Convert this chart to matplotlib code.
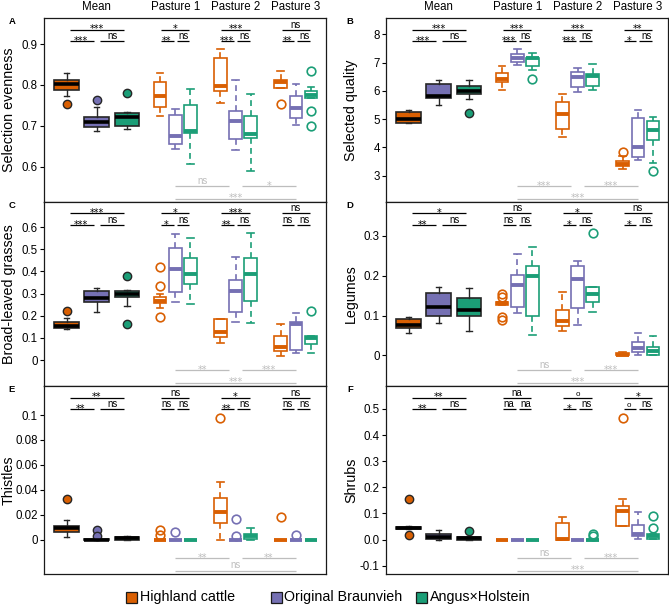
import matplotlib
matplotlib.use("Agg")
import matplotlib.pyplot as plt
from matplotlib.patches import Rectangle
import matplotlib.transforms as mtransforms

plt.rcParams['font.family'] = ['Liberation Sans', 'DejaVu Sans']

# ---------------- data ----------------
breeds = ['Highland cattle', 'Original Braunvieh', 'Angus×Holstein']
groups = ['Mean', 'Pasture 1', 'Pasture 2', 'Pasture 3']
colors = ['#D95F02', '#7570B3', '#1B9E77']

# order in every list: Mean(HC, OB, AH), Pasture1(HC, OB, AH), Pasture2(...), Pasture3(...)
A_med = [0.803, 0.710, 0.721, 0.773, 0.675, 0.688, 0.798, 0.712, 0.680, 0.808, 0.743, 0.776]
A_q1  = [0.788, 0.698, 0.700, 0.746, 0.655, 0.682, 0.786, 0.668, 0.670, 0.792, 0.719, 0.768]
A_q3  = [0.811, 0.721, 0.732, 0.808, 0.727, 0.751, 0.867, 0.737, 0.723, 0.812, 0.772, 0.784]
A_lo  = [0.772, 0.686, 0.692, 0.723, 0.643, 0.606, 0.755, 0.641, 0.590, 0.792, 0.702, 0.768]
A_hi  = [0.829, 0.746, 0.733, 0.830, 0.741, 0.790, 0.889, 0.811, 0.777, 0.833, 0.802, 0.794]
A_out = [[0.753], [0.763], [0.780], [], [], [], [], [], [], [0.754], [], [0.835, 0.735, 0.700]]

B_med = [5.00, 5.83, 6.00, 6.42, 7.15, 7.15, 5.18, 6.48, 6.52, 3.41, 4.00, 4.61]
B_q1  = [4.85, 5.76, 5.88, 6.32, 7.03, 6.89, 4.67, 6.15, 6.18, 3.34, 3.65, 4.26]
B_q3  = [5.26, 6.23, 6.17, 6.62, 7.29, 7.17, 5.62, 6.68, 6.60, 3.52, 5.03, 4.93]
B_lo  = [4.85, 5.50, 5.70, 6.03, 6.91, 6.74, 4.38, 5.95, 6.03, 3.24, 3.55, 3.45]
B_hi  = [5.32, 6.38, 6.38, 6.88, 7.50, 7.33, 5.89, 6.82, 6.97, 3.69, 5.32, 5.09]
B_out = [[], [], [5.23], [], [], [6.42], [], [], [], [3.85], [], [3.18]]

C_med = [0.155, 0.278, 0.296, 0.266, 0.410, 0.388, 0.125, 0.313, 0.388, 0.060, 0.161, 0.098]
C_q1  = [0.143, 0.263, 0.284, 0.256, 0.308, 0.341, 0.105, 0.218, 0.266, 0.041, 0.045, 0.072]
C_q3  = [0.170, 0.313, 0.311, 0.286, 0.504, 0.459, 0.185, 0.361, 0.459, 0.110, 0.173, 0.108]
C_lo  = [0.140, 0.218, 0.244, 0.233, 0.263, 0.251, 0.075, 0.170, 0.165, 0.020, 0.030, 0.030]
C_hi  = [0.188, 0.326, 0.316, 0.299, 0.568, 0.552, 0.185, 0.463, 0.571, 0.161, 0.211, 0.108]
C_out = [[0.221], [], [0.380, 0.161], [0.418, 0.335, 0.196], [], [], [], [], [], [], [], [0.221]]

D_med = [0.076, 0.122, 0.114, 0.131, 0.177, 0.200, 0.086, 0.192, 0.153, 0.002, 0.018, 0.011]
D_q1  = [0.068, 0.100, 0.099, 0.126, 0.122, 0.099, 0.074, 0.118, 0.133, 0.000, 0.008, 0.001]
D_q3  = [0.090, 0.157, 0.143, 0.135, 0.202, 0.224, 0.114, 0.224, 0.172, 0.005, 0.034, 0.022]
D_lo  = [0.057, 0.080, 0.061, 0.126, 0.106, 0.051, 0.061, 0.076, 0.108, 0.000, 0.000, 0.001]
D_hi  = [0.097, 0.172, 0.168, 0.135, 0.254, 0.273, 0.158, 0.237, 0.172, 0.009, 0.057, 0.049]
D_out = [[], [], [], [0.155, 0.147, 0.097, 0.088], [], [], [], [], [0.307], [], [], []]

E_med = [0.0091, 0.0, 0.0010, 0.0, 0.0, 0.0, 0.0220, 0.0, 0.0027, 0.0, 0.0, 0.0]
E_q1  = [0.0064, 0.0, 0.0000, 0.0, 0.0, 0.0, 0.0137, 0.0, 0.0003, 0.0, 0.0, 0.0]
E_q3  = [0.0110, 0.0008, 0.0020, 0.0, 0.0, 0.0, 0.0333, 0.0, 0.0046, 0.0, 0.0, 0.0]
E_lo  = [0.0020, 0.0, 0.0000, 0.0, 0.0, 0.0, 0.0000, 0.0, 0.0000, 0.0, 0.0, 0.0]
E_hi  = [0.0158, 0.0008, 0.0030, 0.0, 0.0, 0.0, 0.0466, 0.0, 0.0091, 0.0, 0.0, 0.0]
E_out = [[0.0327], [0.0075, 0.0030], [], [0.0078, 0.0035], [0.0064], [],
         [0.098], [0.0166, 0.0030], [], [0.018], [0.0035], []]

F_med = [0.044, 0.009, 0.005, 0.0, 0.0, 0.0, 0.003, 0.0, 0.0, 0.111, 0.022, 0.014]
F_q1  = [0.040, 0.002, 0.000, 0.0, 0.0, 0.0, 0.000, 0.0, 0.0, 0.053, 0.015, 0.002]
F_q3  = [0.048, 0.021, 0.009, 0.0, 0.0, 0.0, 0.063, 0.0, 0.0, 0.127, 0.056, 0.021]
F_lo  = [0.040, 0.000, 0.000, 0.0, 0.0, 0.0, 0.000, 0.0, 0.0, 0.053, 0.001, 0.002]
F_hi  = [0.052, 0.035, 0.009, 0.0, 0.0, 0.0, 0.086, 0.0, 0.0, 0.155, 0.104, 0.021]
F_out = [[0.156, 0.017], [], [0.031], [], [], [], [], [], [0.020, 0.012], [0.467], [], [0.091, 0.046]]

# significance labels: per group (Mean, P1, P2, P3): HC vs AH (top), HC vs OB (left), OB vs AH (right)
A_sig_top = ['***', '*', '***', 'ns']
A_sig_left = ['***', '**', '***', '**']
A_sig_right = ['ns', 'ns', 'ns', 'ns']
A_sig_past = ['ns', '*', '***']   # P1 vs P2, P2 vs P3, P1 vs P3

B_sig_top = ['***', '***', '***', '**']
B_sig_left = ['***', '***', '***', '*']
B_sig_right = ['ns', 'ns', 'ns', 'ns']
B_sig_past = ['***', '***', '***']

C_sig_top = ['***', '*', '***', 'ns']
C_sig_left = ['***', '*', '**', 'ns']
C_sig_right = ['ns', 'ns', 'ns', 'ns']
C_sig_past = ['**', '***', '***']

D_sig_top = ['*', 'ns', '*', 'ns']
D_sig_left = ['**', 'ns', '*', '*']
D_sig_right = ['ns', 'ns', 'ns', 'ns']
D_sig_past = ['ns', '***', '***']

E_sig_top = ['**', 'ns', '*', 'ns']
E_sig_left = ['**', 'ns', '**', 'ns']
E_sig_right = ['ns', 'ns', 'ns', 'ns']
E_sig_past = ['**', '**', 'ns']

F_sig_top = ['**', 'na', 'o', '*']
F_sig_left = ['**', 'na', '*', 'o']
F_sig_right = ['ns', 'na', 'ns', 'ns']
F_sig_past = ['ns', '***', '***']

ylabels = ['Selection evenness', 'Selected quality', 'Broad-leaved grasses',
           'Legumes', 'Thistles', 'Shrubs']
letters = ['A', 'B', 'C', 'D', 'E', 'F']
yticks = [[0.6, 0.7, 0.8, 0.9], [3, 4, 5, 6, 7, 8],
          [0, 0.1, 0.2, 0.3, 0.4, 0.5, 0.6], [0, 0.1, 0.2, 0.3],
          [0, 0.02, 0.04, 0.06, 0.08, 0.1], [-0.1, 0.0, 0.1, 0.2, 0.3, 0.4, 0.5]]
yticklabels = [['0.6', '0.7', '0.8', '0.9'], ['3', '4', '5', '6', '7', '8'],
               ['0', '0.1', '0.2', '0.3', '0.4', '0.5', '0.6'], ['0', '0.1', '0.2', '0.3'],
               ['0', '0.02', '0.04', '0.06', '0.08', '0.1'],
               ['-0.1', '0.0', '0.1', '0.2', '0.3', '0.4', '0.5']]

# ---------------- layout ----------------
W, H = 669, 608
fig = plt.figure(figsize=(W / 100, H / 100), dpi=100)

ylims = [(0.513, 0.964), (2.07, 8.58), (-0.117, 0.713), (-0.077, 0.385),
         (-0.0276, 0.1233), (-0.132, 0.588)]
col_x = [44, 386]
row_y = [(18, 202), (202, 386), (386, 574)]
positions = [1, 2, 3, 4.1, 4.6, 5.1, 6.1, 6.6, 7.1, 8.1, 8.6, 9.1]
centers = [2, 4.6, 6.6, 8.6]

panels = [
    (A_med, A_q1, A_q3, A_lo, A_hi, A_out, A_sig_top, A_sig_left, A_sig_right, A_sig_past),
    (B_med, B_q1, B_q3, B_lo, B_hi, B_out, B_sig_top, B_sig_left, B_sig_right, B_sig_past),
    (C_med, C_q1, C_q3, C_lo, C_hi, C_out, C_sig_top, C_sig_left, C_sig_right, C_sig_past),
    (D_med, D_q1, D_q3, D_lo, D_hi, D_out, D_sig_top, D_sig_left, D_sig_right, D_sig_past),
    (E_med, E_q1, E_q3, E_lo, E_hi, E_out, E_sig_top, E_sig_left, E_sig_right, E_sig_past),
    (F_med, F_q1, F_q3, F_lo, F_hi, F_out, F_sig_top, F_sig_left, F_sig_right, F_sig_past),
]

GREY = '#bdbdbd'


def sig(ax, x0, x1, yfrac, label, color, dx=0.0):
    trans = ax.get_xaxis_transform()
    ax.plot([x0, x1], [yfrac, yfrac], transform=trans, color=color, lw=0.9,
            clip_on=False, solid_capstyle='butt')
    xm = (x0 + x1) / 2
    if '*' in label:
        t = mtransforms.offset_copy(trans, fig=fig, x=dx, y=-2.6, units='dots')
        ax.text(xm, yfrac, label, transform=t, ha='center', va='baseline',
                fontsize=7.0, family='DejaVu Sans', color=color)
    elif label == 'o':
        t = mtransforms.offset_copy(trans, fig=fig, x=dx, y=2.0, units='dots')
        ax.text(xm, yfrac, label, transform=t, ha='center', va='baseline',
                fontsize=5.8, color=color)
    else:
        t = mtransforms.offset_copy(trans, fig=fig, x=dx, y=2.0, units='dots')
        ax.text(xm, yfrac, label, transform=t, ha='center', va='baseline',
                fontsize=6.9, color=color)


for k, p in enumerate(panels):
    med, q1, q3, lo, hi, out, stop, sleft, sright, spast = p
    r, c = divmod(k, 2)
    x0 = col_x[c]
    ytop, ybot = row_y[r]
    ax = fig.add_axes([x0 / W, 1 - ybot / H, 282 / W, (ybot - ytop) / H])
    ax.set_xlim(0.25, 9.6)
    ax.set_ylim(*ylims[k])

    for i in range(12):
        st = [dict(med=med[i], q1=q1[i], q3=q3[i], whislo=lo[i], whishi=hi[i], fliers=out[i])]
        col = colors[i % 3]
        if i < 3:
            ax.bxp(st, positions=[positions[i]], widths=0.82, patch_artist=True,
                   manage_ticks=False, capwidths=0.17,
                   boxprops=dict(facecolor=col, edgecolor='#262626', linewidth=1.2),
                   medianprops=dict(color='black', linewidth=2.6, solid_capstyle='butt'),
                   whiskerprops=dict(color='#262626', linewidth=1.0),
                   capprops=dict(color='#262626', linewidth=1.0),
                   flierprops=dict(marker='o', markerfacecolor=col, markeredgecolor='#262626',
                                   markersize=6, markeredgewidth=1.0), zorder=3)
        else:
            ax.bxp(st, positions=[positions[i]], widths=0.42, patch_artist=True,
                   manage_ticks=False, capwidths=0.22,
                   boxprops=dict(facecolor='white', edgecolor=col, linewidth=1.2),
                   medianprops=dict(color=col, linewidth=2.8, solid_capstyle='butt'),
                   whiskerprops=dict(color=col, linewidth=1.2, linestyle=(0, (3.5, 2.5))),
                   capprops=dict(color=col, linewidth=1.2),
                   flierprops=dict(marker='o', markerfacecolor='none', markeredgecolor=col,
                                   markersize=6.2, markeredgewidth=1.2), zorder=3)

    ax.set_xticks([])
    ax.set_yticks(yticks[k])
    ax.set_yticklabels(yticklabels[k])
    ax.tick_params(axis='y', labelsize=8.3, length=3, width=0.8, pad=1.5, direction='out')
    for s in ax.spines.values():
        s.set_linewidth(0.9)
        s.set_color('#1a1a1a')

    ax.text(-0.124, 0.5, ylabels[k], transform=ax.transAxes, rotation=90,
            ha='center', va='center', fontsize=10.3)

    hpx = ybot - ytop
    y_top = 1 - 11.5 / hpx
    y_low = 1 - 23 / hpx
    for g in range(4):
        cx = centers[g]
        if g == 0:
            half, gap = 0.9, 0.1
        else:
            half, gap = 0.47, 0.05
        sig(ax, cx - half, cx + half, y_top, stop[g], 'black')
        sig(ax, cx - half, cx - gap, y_low, sleft[g], 'black', dx=-0.8)
        sig(ax, cx + gap, cx + half, y_low, sright[g], 'black', dx=0.8)

    yb1 = 16 / hpx
    yb2 = 3.5 / hpx
    sig(ax, 4.6, 6.4, yb1, spast[0], GREY)
    sig(ax, 6.8, 8.6, yb1, spast[1], GREY)
    sig(ax, 4.6, 8.6, yb2, spast[2], GREY)

    if r == 0:
        for g in range(4):
            t = mtransforms.offset_copy(ax.get_xaxis_transform(), fig=fig, y=11, units='dots')
            ax.text(centers[g], 1.0, groups[g], transform=t, ha='center', va='center',
                    fontsize=8.3)

    lx = 12 if c == 0 else 350
    fig.text(lx / W, 1 - (ytop + 3) / H, letters[k], fontsize=6.8, fontweight='bold',
             ha='center', va='center')

# ---------------- legend ----------------
leg_x = [126, 271, 416]
leg_y = 597
for i in range(3):
    fig.patches.append(Rectangle((leg_x[i] / W, 1 - (leg_y + 5.5) / H), 11 / W, 11 / H,
                                 transform=fig.transFigure, facecolor=colors[i],
                                 edgecolor='#1a1a1a', linewidth=0.9))
    fig.text((leg_x[i] + 13.5) / W, 1 - leg_y / H, breeds[i], fontsize=10.3,
             ha='left', va='center')

fig.savefig('out.png', dpi=100)
